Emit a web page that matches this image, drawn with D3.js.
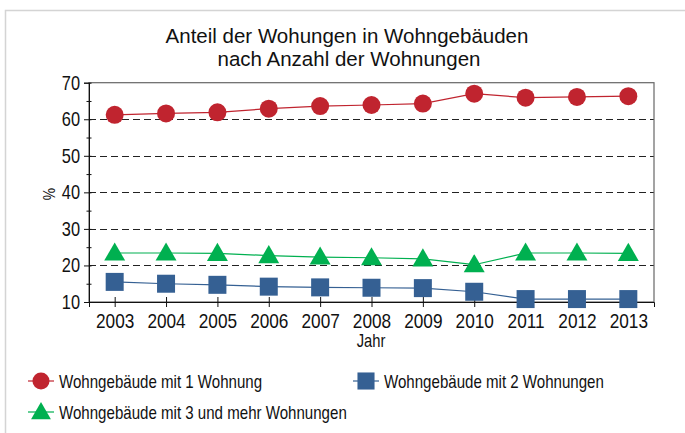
<!DOCTYPE html>
<html>
<head>
<meta charset="utf-8">
<script src="https://cdn.jsdelivr.net/npm/d3@7"></script>
<style>
  body { margin: 0; background: #fff; }
  text { font-family: "Liberation Sans", Arial, sans-serif; }
</style>
</head>
<body>
<svg id="chart" width="685" height="433"></svg>
<script>
const years = ["2003", "2004", "2005", "2006", "2007", "2008", "2009", "2010", "2011", "2012", "2013"];
const oneFlat = [61.2, 61.6, 61.9, 62.9, 63.6, 63.9, 64.3, 67.0, 65.9, 66.1, 66.3];
const twoFlats = [15.5, 15.0, 14.7, 14.2, 14.0, 13.9, 13.8, 12.8, 10.8, 10.8, 10.8];
const threePlus = [23.4, 23.4, 23.3, 22.7, 22.3, 22.1, 21.8, 20.2, 23.4, 23.4, 23.3];
const seriesNames = ["Wohngebäude mit 1 Wohnung", "Wohngebäude mit 2 Wohnungen", "Wohngebäude mit 3 und mehr Wohnungen"];
const yTicks = [10, 20, 30, 40, 50, 60, 70];
const yMinor = [15, 25, 35, 45, 55, 65];
const gridValues = [20, 30, 40, 50, 60];

// schmale Schrift nachbilden (Arial Narrow ist nicht installiert)
const narrow = 0.82;

const svg = d3.select("#chart");

// äußerer Rahmen (nur oben und links sichtbar)
svg.append("rect")
  .attr("x", 5.5).attr("y", 10.5)
  .attr("width", 700).attr("height", 440)
  .attr("fill", "none").attr("stroke", "#d4d4d4").attr("stroke-width", 1.5);

const plotLeft = 89, plotRight = 654, plotTop = 82.7, plotBottom = 302;

const x = d3.scalePoint().domain(years).range([plotLeft, plotRight]).padding(0.5);
const y = d3.scaleLinear().domain([10, 70]).range([plotBottom, plotTop]);

// Titel
const title = svg.append("text")
  .attr("text-anchor", "middle").attr("font-size", 20.5).attr("fill", "#111");
title.append("tspan").attr("x", 347).attr("y", 43).text("Anteil der Wohungen in Wohngebäuden");
title.append("tspan").attr("x", 349).attr("y", 66).text("nach Anzahl der Wohnungen");

// Gitterlinien
svg.append("g").selectAll("line").data(gridValues).enter().append("line")
  .attr("x1", plotLeft).attr("x2", plotRight)
  .attr("y1", (d) => Math.round(y(d)) + 0.5).attr("y2", (d) => Math.round(y(d)) + 0.5)
  .attr("stroke", "#222").attr("stroke-dasharray", "7,4");

// Rahmen Plotbereich
svg.append("rect")
  .attr("x", plotLeft).attr("y", plotTop)
  .attr("width", plotRight - plotLeft).attr("height", plotBottom - plotTop)
  .attr("fill", "none").attr("stroke", "#666").attr("stroke-width", 1.2);

// y-Achse
const yAxis = svg.append("g").attr("transform", "translate(" + plotLeft + ",0)")
  .call(d3.axisLeft(y).tickValues(yTicks).tickSize(5).tickPadding(9));
yAxis.attr("font-family", null).attr("font-size", null);
yAxis.select(".domain").attr("stroke", "#111");
yAxis.selectAll(".tick line").attr("x1", 2.5).attr("stroke", "#111");
yAxis.selectAll(".tick text")
  .attr("x", -9 / narrow).attr("transform", "scale(" + narrow + ",1)")
  .attr("font-size", 20).attr("fill", "#111");

const yMinorAxis = svg.append("g").attr("transform", "translate(" + plotLeft + ",0)")
  .call(d3.axisLeft(y).tickValues(yMinor).tickSize(2.5).tickFormat(""));
yMinorAxis.select(".domain").remove();
yMinorAxis.selectAll(".tick line").attr("x1", 2.5).attr("stroke", "#111");

// x-Achse
const xAxis = svg.append("g").attr("transform", "translate(0," + plotBottom + ")")
  .call(d3.axisBottom(x).tickSize(5).tickPadding(6));
xAxis.attr("font-family", null).attr("font-size", null);
xAxis.select(".domain").attr("stroke", "#111");
xAxis.selectAll(".tick line").attr("y1", -5).attr("stroke", "#111");
xAxis.selectAll(".tick text")
  .attr("transform", "scale(" + narrow + ",1)")
  .attr("font-size", 21).attr("fill", "#111");

// Achsentitel
svg.append("text")
  .attr("transform", "translate(55,194) rotate(-90) scale(" + narrow + ",1)")
  .attr("text-anchor", "middle").attr("font-size", 17).attr("fill", "#111").text("%");
svg.append("text")
  .attr("transform", "translate(371,347) scale(" + narrow + ",1)")
  .attr("text-anchor", "middle").attr("font-size", 18).attr("fill", "#111").text("Jahr");

const series = [
  { name: seriesNames[0], values: oneFlat, color: "#c0242f", shape: d3.symbolCircle },
  { name: seriesNames[1], values: twoFlats, color: "#356093", shape: d3.symbolSquare },
  { name: seriesNames[2], values: threePlus, color: "#00b050", shape: d3.symbolTriangle }
];

const line = d3.line().x((d, i) => x(years[i])).y((d) => y(d));

// Markergrößen (Fläche in px²)
const symbolSize = { circle: 254, square: 324, triangle: 190 };
function sizeOf(shape) {
  if (shape === d3.symbolCircle) return symbolSize.circle;
  if (shape === d3.symbolSquare) return symbolSize.square;
  return symbolSize.triangle;
}

// Zeichenreihenfolge: Blau, Grün, Rot
[series[1], series[2], series[0]].forEach((s) => {
  svg.append("path").datum(s.values)
    .attr("d", line).attr("fill", "none").attr("stroke", s.color).attr("stroke-width", 1.2);
  const sym = d3.symbol().type(s.shape).size(sizeOf(s.shape));
  svg.append("g").selectAll("path").data(s.values).enter().append("path")
    .attr("transform", (d, i) => "translate(" + x(years[i]) + "," + (y(d) + (s.shape === d3.symbolTriangle ? 1.5 : 0)) + ")")
    .attr("d", sym)
    .attr("fill", s.color);
});

// Legende
const legendItems = [
  { s: series[0], lx: 28, ly: 381 },
  { s: series[1], lx: 353, ly: 381 },
  { s: series[2], lx: 28, ly: 412 }
];
const legend = svg.append("g").selectAll("g").data(legendItems).enter().append("g")
  .attr("transform", (d) => "translate(" + d.lx + "," + d.ly + ")");
legend.append("line").attr("x1", 0).attr("x2", 26)
  .attr("stroke", (d) => d.s.color).attr("stroke-width", 1.2);
legend.append("path")
  .attr("transform", (d) => "translate(13," + (d.s.shape === d3.symbolTriangle ? 1.5 : 0) + ")")
  .attr("d", (d) => d3.symbol().type(d.s.shape).size(sizeOf(d.s.shape) * 0.9)())
  .attr("fill", (d) => d.s.color);
legend.append("text")
  .attr("transform", "translate(31,6.5) scale(" + narrow + ",1)")
  .attr("font-size", 18.4).attr("fill", "#111")
  .text((d) => d.s.name);
</script>
</body>
</html>
